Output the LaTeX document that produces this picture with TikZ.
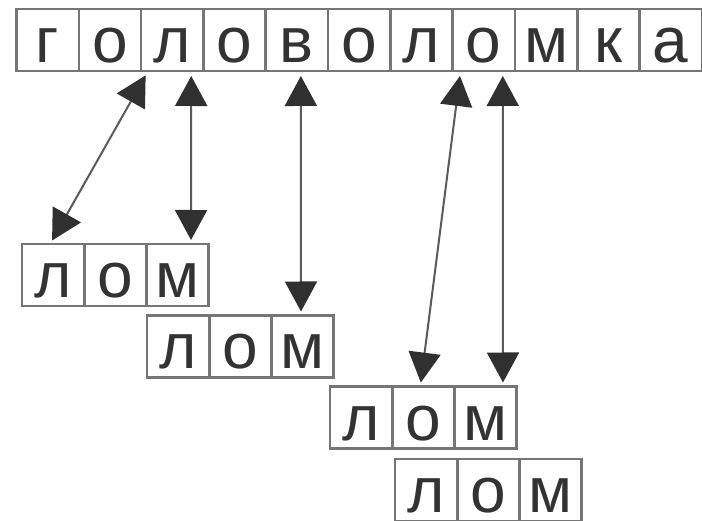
\documentclass[tikz,border=0pt]{standalone}
\usepackage{fontspec}
\setmainfont{Liberation Sans}
\usetikzlibrary{arrows.meta}
\definecolor{boxc}{HTML}{767676}
\definecolor{txtc}{HTML}{333333}
\definecolor{linec}{HTML}{5A5A5A}
\definecolor{headc}{HTML}{303030}
\tikzset{
  cell/.style={draw=boxc, line width=2.6pt, minimum width=62.3pt, minimum height=62pt, inner sep=0pt, outer sep=0pt},
  smallcell/.style={cell, minimum width=62.2pt},
  letter/.style={anchor=base, inner sep=0pt, text=txtc, font=\fontsize{64}{64}\selectfont},
  tip/.style={Triangle[length=30pt,width=32pt,fill=headc,color=headc]},
  link/.style={draw=linec, line width=2pt, {Triangle[length=30pt,width=32pt,fill=headc,color=headc]}-{Triangle[length=30pt,width=32pt,fill=headc,color=headc]}, shorten <=5pt, shorten >=4pt}
}
\begin{document}
\begin{tikzpicture}[x=1pt,y=1pt]
\useasboundingbox (0,0) rectangle (702,-521);
\foreach \ch [count=\i from 0] in {г,о,л,о,в,о,л,о,м,к,а}{
  \node[cell] (t\i) at ({16.5+31.15+62.3*\i},-40) {};
  \node[letter] (tL\i) at ([yshift=8.5pt]t\i.south) {\ch};
}
\foreach \r/\lx/\cy in {a/22/-275, b/147/-346.5, c/330/-417.5, d/395/-490}{
  \foreach \ch [count=\i from 0] in {л,о,м}{
    \node[smallcell] (\r\i) at ({\lx+31.1+62.2*\i},\cy) {};
    \node[letter] (\r L\i) at ([yshift=8.5pt]\r\i.south) {\ch};
  }
}
\draw[link] ([xshift=7pt]t2.south west) -- ([xshift=-3pt]a0.north);
\draw[link] ([xshift=19pt]t2.south) -- ([xshift=13.5pt]a2.north);
\draw[link] ([xshift=4pt]t4.south) -- ([xshift=-1.5pt]b2.north);
\draw[link] ([xshift=8pt]t7.south west) -- ([xshift=-3pt]c1.north);
\draw[link] ([xshift=19pt]t7.south) -- ([xshift=17.5pt]c2.north);
\end{tikzpicture}
\end{document}
